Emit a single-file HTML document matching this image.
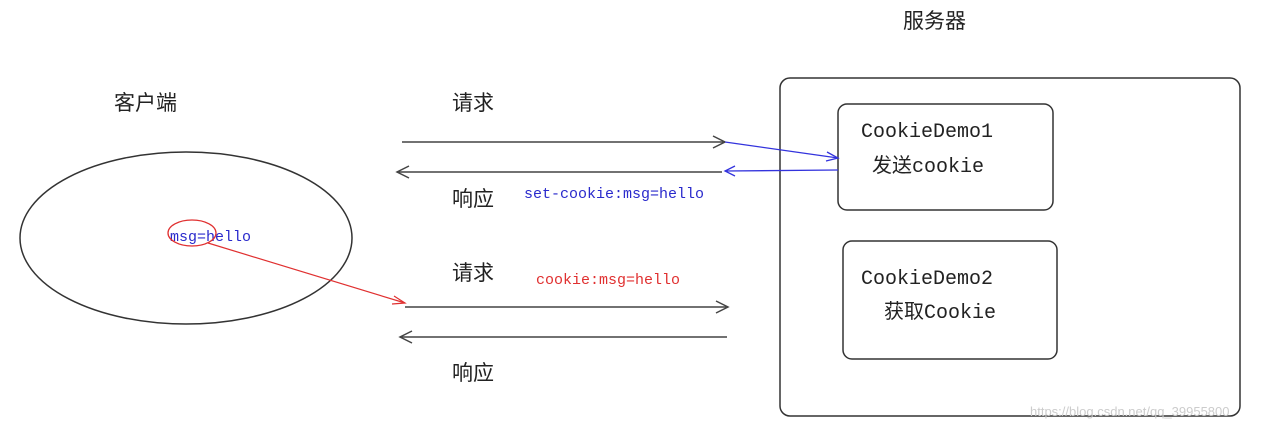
<!DOCTYPE html>
<html><head><meta charset="utf-8"><style>
html,body{margin:0;padding:0;background:#fff;}
svg{display:block}
.cn{font-family:"Liberation Sans","Noto Sans CJK SC",sans-serif;font-size:21px;fill:#222}
.mono{font-family:"Liberation Mono","Noto Sans CJK SC",monospace}
</style></head><body>
<svg width="1280" height="430" viewBox="0 0 1280 430" xmlns="http://www.w3.org/2000/svg">
<text class="cn" x="903" y="28">服务器</text>
<text class="cn" x="114" y="110">客户端</text>
<ellipse cx="186" cy="238" rx="166" ry="86" fill="none" stroke="#333" stroke-width="1.5"/>
<rect x="780" y="78" width="460" height="338" rx="10" fill="none" stroke="#333" stroke-width="1.5"/>
<rect x="838" y="104" width="215" height="106" rx="9" fill="none" stroke="#333" stroke-width="1.5"/>
<rect x="843" y="241" width="214" height="118" rx="9" fill="none" stroke="#333" stroke-width="1.5"/>
<text class="mono" x="861" y="137" font-size="20" fill="#222">CookieDemo1</text>
<text class="mono" x="872" y="172" font-size="20" fill="#222">发送cookie</text>
<text class="mono" x="861" y="284" font-size="20" fill="#222">CookieDemo2</text>
<text class="mono" x="884" y="318" font-size="20" fill="#222">获取Cookie</text>
<g stroke="#444" stroke-width="1.5" fill="none">
<line x1="402" y1="142" x2="725" y2="142"/><polyline points="713,136 725,142 713,148"/>
<line x1="397" y1="172" x2="722" y2="172"/><polyline points="409,166 397,172 409,178"/>
<line x1="405" y1="307" x2="728" y2="307"/><polyline points="716,301 728,307 716,313"/>
<line x1="400" y1="337" x2="727" y2="337"/><polyline points="412,331 400,337 412,343"/>
</g>
<g stroke="#3333dd" stroke-width="1.3" fill="none">
<line x1="725" y1="142" x2="838" y2="158"/><polyline points="827,152 838,158 826,161"/>
<line x1="838" y1="170" x2="725" y2="171"/><polyline points="735,166 725,171 735,176"/>
</g>
<text class="cn" x="452" y="110">请求</text>
<text class="cn" x="452" y="206">响应</text>
<text class="mono" x="524" y="198" font-size="15" fill="#2a2acc">set-cookie:msg=hello</text>
<text class="cn" x="452" y="280">请求</text>
<text class="mono" x="536" y="284" font-size="15" fill="#e03030">cookie:msg=hello</text>
<text class="cn" x="452" y="380">响应</text>
<text class="mono" x="170" y="241" font-size="15" fill="#2a2acc">msg=hello</text>
<ellipse cx="192" cy="233" rx="24" ry="13" fill="none" stroke="#e03030" stroke-width="1.3"/>
<g stroke="#e03030" stroke-width="1.2" fill="none">
<line x1="208" y1="243" x2="405" y2="303"/><polyline points="394,296 405,303 392,304"/>
</g>
<text x="1030" y="416" font-family="Liberation Sans,sans-serif" font-size="13" fill="#ccc">https://blog.csdn.net/qq_39955800</text>
</svg>
</body></html>
